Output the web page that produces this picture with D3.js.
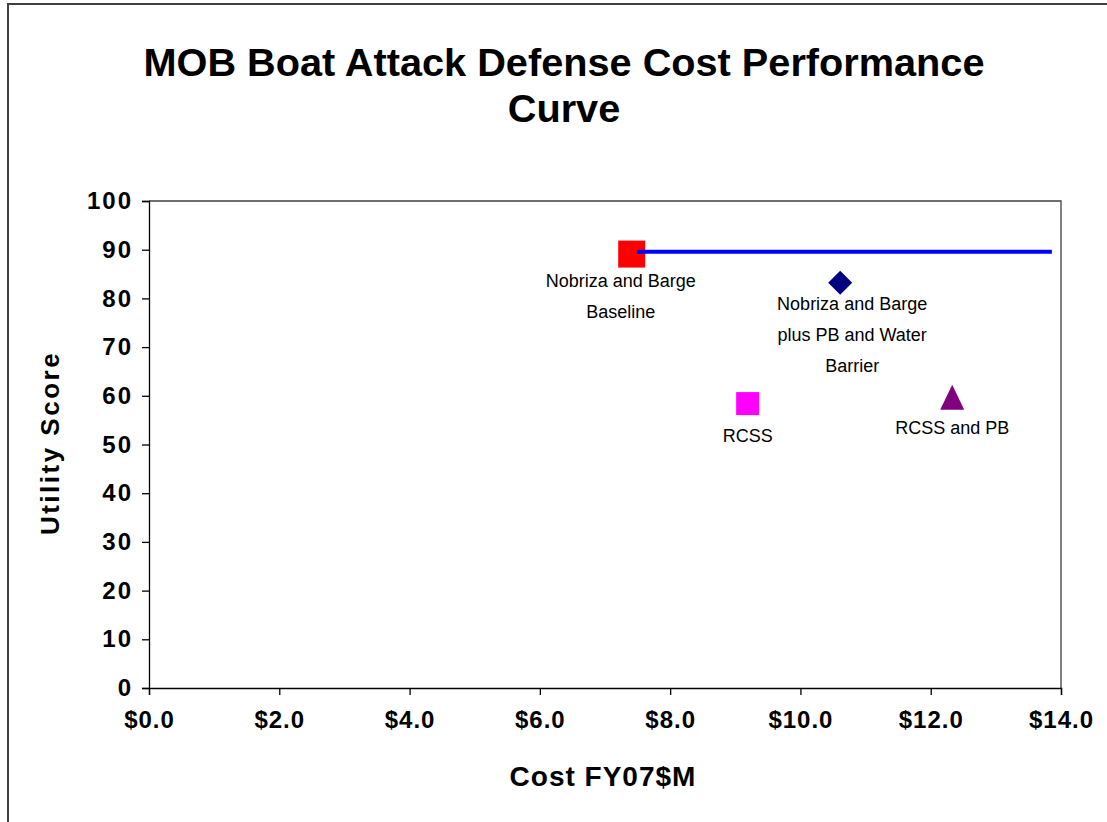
<!DOCTYPE html>
<html>
<head>
<meta charset="utf-8">
<script src="https://cdn.jsdelivr.net/npm/d3@7"></script>
<style>
  html, body { margin: 0; padding: 0; background: #ffffff; }
  svg { display: block; font-family: Arial, "Liberation Sans", sans-serif; }
</style>
</head>
<body>
<svg id="chart" width="1107" height="822"></svg>
<script>
// ---- data ----
const titleLines = ["MOB Boat Attack Defense Cost Performance", "Curve"];
const xAxisTitle = "Cost FY07$M";
const yAxisTitle = "Utility Score";
const xTicks = [0, 2, 4, 6, 8, 10, 12, 14];
const yTicks = [0, 10, 20, 30, 40, 50, 60, 70, 80, 90, 100];
const pointNames = ["Nobriza and Barge Baseline", "Nobriza and Barge plus PB and Water Barrier", "RCSS", "RCSS and PB"];
const pointCost = [7.41, 10.61, 9.19, 12.33];
const pointUtility = [89.1, 83.2, 58.4, 59.6];
const pointLabelLines = [
  ["Nobriza and Barge", "Baseline"],
  ["Nobriza and Barge", "plus PB and Water", "Barrier"],
  ["RCSS"],
  ["RCSS and PB"]
];
const frontierCost = [7.49, 13.86];
const frontierUtility = [89.6, 89.6];

// ---- styles / layout ----
const FONT = 'Arial, "Liberation Sans", sans-serif';
const markerStyle = [
  { shape: "square", color: "#FF0000", size: 27 },
  { shape: "diamond", color: "#000080", size: 24 },
  { shape: "square", color: "#FF00FF", size: 23 },
  { shape: "triangle", color: "#800080", size: 24 }
];
// label offsets in pixels relative to the point (first line baseline)
const labelOffset = [
  { dx: -11, dy: 33 },
  { dx: 12, dy: 27 },
  { dx: 0, dy: 38 },
  { dx: 0, dy: 36 }
];
const lineGap = 31;

const svg = d3.select("#chart");
const plot = { left: 149, right: 1061, top: 201, bottom: 688 };

const x = d3.scaleLinear().domain([0, 14]).range([plot.left, plot.right]);
const y = d3.scaleLinear().domain([0, 100]).range([plot.bottom, plot.top]);

// outer chart border
svg.append("rect")
  .attr("x", 8).attr("y", 4)
  .attr("width", 1200).attr("height", 900)
  .attr("fill", "#ffffff")
  .attr("stroke", "#404040").attr("stroke-width", 2);

// title
svg.append("text")
  .attr("text-anchor", "middle")
  .attr("font-weight", "bold")
  .attr("font-size", 39.7)
  .attr("fill", "#000")
  .selectAll("tspan").data(titleLines).join("tspan")
  .attr("x", 564)
  .attr("y", (d, i) => 76 + i * 46)
  .text(d => d);

// plot-area frame (top and right)
svg.append("path")
  .attr("d", `M${plot.left},${plot.top}H${plot.right}V${plot.bottom}`)
  .attr("fill", "none").attr("stroke", "#404040").attr("stroke-width", 1.3);

// axes
const xAxis = d3.axisBottom(x).tickValues(xTicks).tickSize(7).tickPadding(16)
  .tickFormat(d => "$" + d.toFixed(1));
const yAxis = d3.axisLeft(y).tickValues(yTicks).tickSize(7).tickPadding(9);

const gx = svg.append("g").attr("transform", `translate(0,${plot.bottom})`).call(xAxis);
const gy = svg.append("g").attr("transform", `translate(${plot.left},0)`).call(yAxis);

[gx, gy].forEach(g => {
  g.select(".domain").attr("stroke", "#000").attr("stroke-width", 1.3);
  g.selectAll(".tick line").attr("stroke", "#000").attr("stroke-width", 1.3);
  g.selectAll(".tick text")
    .attr("font-family", FONT)
    .attr("font-weight", "bold")
    .attr("fill", "#000");
});
gx.selectAll(".tick text").attr("font-size", 24).attr("letter-spacing", 1);
gy.selectAll(".tick text").attr("font-size", 24).attr("letter-spacing", 2);

// axis titles
svg.append("text")
  .attr("x", 603).attr("y", 786)
  .attr("text-anchor", "middle")
  .attr("font-weight", "bold").attr("font-size", 28)
  .attr("letter-spacing", 1)
  .text(xAxisTitle);

svg.append("text")
  .attr("transform", "translate(59,443) rotate(-90)")
  .attr("text-anchor", "middle")
  .attr("font-weight", "bold").attr("font-size", 26)
  .attr("letter-spacing", 2.5)
  .text(yAxisTitle);

// markers
const points = pointNames.map((n, i) => ({
  name: n, cost: pointCost[i], util: pointUtility[i],
  lines: pointLabelLines[i], style: markerStyle[i], off: labelOffset[i]
}));

function markerPath(s) {
  const h = s.size / 2;
  if (s.shape === "square") return `M${-h},${-h}H${h}V${h}H${-h}Z`;
  if (s.shape === "diamond") return `M0,${-h}L${h},0L0,${h}L${-h},0Z`;
  return `M0,${-h - 1}L${h},${h}L${-h},${h}Z`;
}

svg.selectAll(".marker").data(points).join("path")
  .attr("class", "marker")
  .attr("transform", d => `translate(${x(d.cost)},${y(d.util)})`)
  .attr("d", d => markerPath(d.style))
  .attr("fill", d => d.style.color);

// frontier line (drawn over the baseline marker)
const frontier = d3.zip(frontierCost, frontierUtility);
svg.append("path")
  .datum(frontier)
  .attr("d", d3.line().x(d => x(d[0])).y(d => y(d[1])))
  .attr("fill", "none").attr("stroke", "#0000FF").attr("stroke-width", 4);

// labels
const lbl = svg.selectAll(".lbl").data(points).join("text")
  .attr("class", "lbl")
  .attr("text-anchor", "middle")
  .attr("font-size", 18)
  .attr("fill", "#000");
lbl.selectAll("tspan").data(d => d.lines.map((t, i) => ({ t, i, p: d }))).join("tspan")
  .attr("x", d => x(d.p.cost) + d.p.off.dx)
  .attr("y", d => y(d.p.util) + d.p.off.dy + d.i * lineGap)
  .text(d => d.t);
</script>
</body>
</html>
